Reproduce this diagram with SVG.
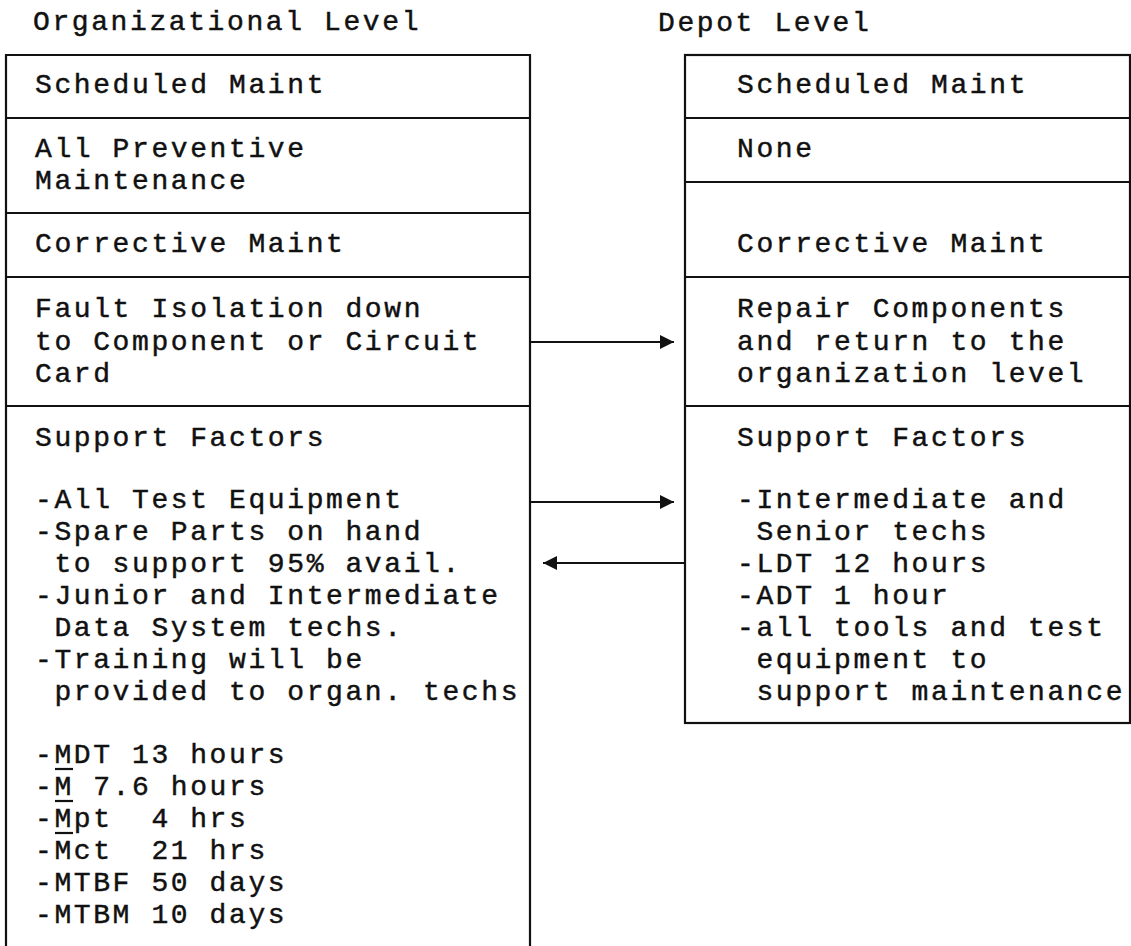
<svg xmlns="http://www.w3.org/2000/svg" width="1131" height="946" viewBox="0 0 1131 946">
  <style>
    text { font-family: "Liberation Mono", "Courier New", monospace; font-size: 28px; letter-spacing: 2.6px; fill: #111; stroke: #111; stroke-width: 0.45; white-space: pre; }
    .box { fill: none; stroke: #111; stroke-width: 2.2; }
    .rule { stroke: #111; stroke-width: 2.2; }
    .link { stroke: #111; stroke-width: 2; fill: none; }
  </style>
  <defs>
    <marker id="head" viewBox="0 0 14 14" refX="14" refY="7" markerWidth="14" markerHeight="14" markerUnits="userSpaceOnUse" orient="auto">
      <path d="M0,0 L14,7 L0,14 Z" fill="#111"/>
    </marker>
  </defs>
  <rect width="1131" height="946" fill="#fff"/>

  <!-- column headings -->
  <text id="org-title" x="33" y="30">Organizational Level</text>
  <text id="depot-title" x="658" y="31">Depot Level</text>

  <!-- Organizational level column (open at the bottom) -->
  <g id="org-column">
    <path class="box" d="M6,948 V55 H530 V948"/>
    <g id="org-scheduled">
      <text x="35" y="93">Scheduled Maint</text>
      <line class="rule" x1="6" y1="118" x2="530" y2="118"/>
    </g>
    <g id="org-preventive">
      <text x="35" y="157">All Preventive</text>
      <text x="35" y="189">Maintenance</text>
      <line class="rule" x1="6" y1="213" x2="530" y2="213"/>
    </g>
    <g id="org-corrective">
      <text x="35" y="252">Corrective Maint</text>
      <line class="rule" x1="6" y1="277" x2="530" y2="277"/>
    </g>
    <g id="org-fault">
      <text x="35" y="317">Fault Isolation down</text>
      <text x="35" y="349.5">to Component or Circuit</text>
      <text x="35" y="382">Card</text>
      <line class="rule" x1="6" y1="406" x2="530" y2="406"/>
    </g>
    <g id="org-support">
      <text x="35" y="446">Support Factors</text>
      <text x="35" y="508">-All Test Equipment</text>
      <text x="35" y="540">-Spare Parts on hand</text>
      <text x="35" y="572"> to support 95% avail.</text>
      <text x="35" y="604">-Junior and Intermediate</text>
      <text x="35" y="636"> Data System techs.</text>
      <text x="35" y="668">-Training will be</text>
      <text x="35" y="700"> provided to organ. techs</text>
      <text x="35" y="763">-MDT 13 hours</text>
      <text x="35" y="795">-M 7.6 hours</text>
      <text x="35" y="827">-Mpt  4 hrs</text>
      <text x="35" y="859">-Mct  21 hrs</text>
      <text x="35" y="891">-MTBF 50 days</text>
      <text x="35" y="923">-MTBM 10 days</text>
      <!-- underlined M on the first three figures -->
      <line class="rule" x1="55" y1="769" x2="73" y2="769" stroke-width="2"/>
      <line class="rule" x1="55" y1="801" x2="73" y2="801" stroke-width="2"/>
      <line class="rule" x1="55" y1="833" x2="73" y2="833" stroke-width="2"/>
    </g>
  </g>

  <!-- Depot level column -->
  <g id="depot-column">
    <rect class="box" x="685" y="55" width="445" height="668"/>
    <g id="depot-scheduled">
      <text x="737" y="93">Scheduled Maint</text>
      <line class="rule" x1="685" y1="118" x2="1130" y2="118"/>
    </g>
    <g id="depot-none">
      <text x="737" y="157">None</text>
      <line class="rule" x1="685" y1="182" x2="1130" y2="182"/>
    </g>
    <g id="depot-corrective">
      <text x="737" y="252">Corrective Maint</text>
      <line class="rule" x1="685" y1="277" x2="1130" y2="277"/>
    </g>
    <g id="depot-repair">
      <text x="737" y="317">Repair Components</text>
      <text x="737" y="349.5">and return to the</text>
      <text x="737" y="382">organization level</text>
      <line class="rule" x1="685" y1="406" x2="1130" y2="406"/>
    </g>
    <g id="depot-support">
      <text x="737" y="446">Support Factors</text>
      <text x="737" y="508">-Intermediate and</text>
      <text x="737" y="540"> Senior techs</text>
      <text x="737" y="572">-LDT 12 hours</text>
      <text x="737" y="604">-ADT 1 hour</text>
      <text x="737" y="636">-all tools and test</text>
      <text x="737" y="668"> equipment to</text>
      <text x="737" y="700"> support maintenance</text>
    </g>
  </g>

  <!-- connectors between the columns -->
  <g id="connectors">
    <line class="link" x1="530" y1="342" x2="674" y2="342" marker-end="url(#head)"/>
    <line class="link" x1="530" y1="502" x2="674" y2="502" marker-end="url(#head)"/>
    <line class="link" x1="685" y1="563" x2="543" y2="563" marker-end="url(#head)"/>
  </g>
</svg>
